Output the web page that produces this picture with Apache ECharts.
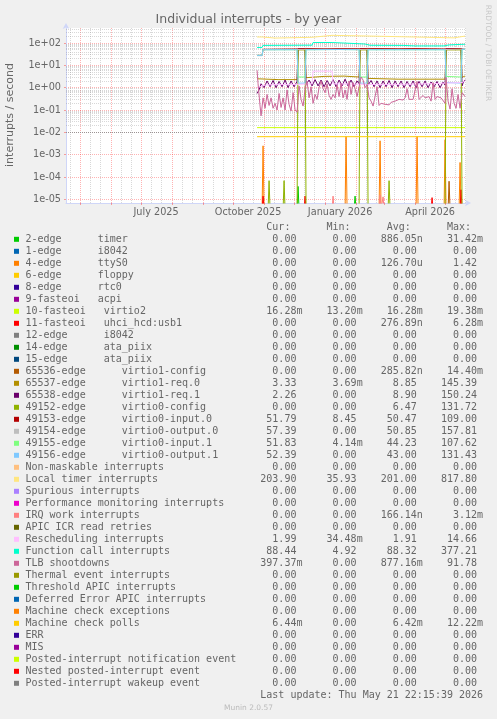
<!DOCTYPE html>
<html><head><meta charset="utf-8">
<script src="https://cdn.jsdelivr.net/npm/echarts@6/dist/echarts.min.js"></script>
<style>html,body{margin:0;padding:0;background:#F0F0F0}#c{width:497px;height:719px}</style>
</head><body><div id="c"></div>
<script>
// ===================== DATA =====================
const legendNames = [
  "2-edge      timer","1-edge      i8042","4-edge      ttyS0","6-edge      floppy","8-edge      rtc0",
  "9-fasteoi   acpi","10-fasteoi   virtio2","11-fasteoi   uhci_hcd:usb1","12-edge      i8042",
  "14-edge      ata_piix","15-edge      ata_piix","65536-edge      virtio1-config",
  "65537-edge      virtio1-req.0","65538-edge      virtio1-req.1","49152-edge      virtio0-config",
  "49153-edge      virtio0-input.0","49154-edge      virtio0-output.0","49155-edge      virtio0-input.1",
  "49156-edge      virtio0-output.1","Non-maskable interrupts","Local timer interrupts","Spurious interrupts",
  "Performance monitoring interrupts","IRQ work interrupts","APIC ICR read retries","Rescheduling interrupts",
  "Function call interrupts","TLB shootdowns","Thermal event interrupts","Threshold APIC interrupts",
  "Deferred Error APIC interrupts","Machine check exceptions","Machine check polls","ERR","MIS",
  "Posted-interrupt notification event","Nested posted-interrupt event","Posted-interrupt wakeup event"
];
const legendColors = [
  "#00CC00","#0066B3","#FF8000","#FFCC00","#330099","#990099","#CCFF00","#FF0000","#808080","#008F00",
  "#00487D","#B35A00","#B38F00","#6B006B","#8FB300","#B30000","#BEBEBE","#80FF80","#80C9FF","#FFC080",
  "#FFE680","#AA80FF","#EE00CC","#FF8080","#666600","#FFBFFF","#00FFCC","#CC6699","#999900","#00CC00",
  "#0066B3","#FF8000","#FFCC00","#330099","#990099","#CCFF00","#FF0000","#808080"
];
const curVals = ["0.00","0.00","0.00","0.00","0.00","0.00","16.28m","0.00","0.00","0.00","0.00","0.00","3.33","2.26","0.00","51.79","57.39","51.83","52.39","0.00","203.90","0.00","0.00","0.00","0.00","1.99","88.44","397.37m","0.00","0.00","0.00","0.00","6.44m","0.00","0.00","0.00","0.00","0.00"];
const minVals = ["0.00","0.00","0.00","0.00","0.00","0.00","13.20m","0.00","0.00","0.00","0.00","0.00","3.69m","0.00","0.00","8.45","0.00","4.14m","0.00","0.00","35.93","0.00","0.00","0.00","0.00","34.48m","4.92","0.00","0.00","0.00","0.00","0.00","0.00","0.00","0.00","0.00","0.00","0.00"];
const avgVals = ["886.05n","0.00","126.70u","0.00","0.00","0.00","16.28m","276.89n","0.00","0.00","0.00","285.82n","8.85","8.90","6.47","50.47","50.85","44.23","43.00","0.00","201.00","0.00","0.00","166.14n","0.00","1.91","88.32","877.16m","0.00","0.00","0.00","0.00","6.42m","0.00","0.00","0.00","0.00","0.00"];
const maxVals = ["31.42m","0.00","1.42","0.00","0.00","0.00","19.38m","6.28m","0.00","0.00","0.00","14.40m","145.39","150.24","131.72","109.00","157.81","107.62","131.43","0.00","817.80","0.00","0.00","3.12m","0.00","14.66","377.21","91.78","0.00","0.00","0.00","0.00","12.22m","0.00","0.00","0.00","0.00","0.00"];

const allZero = [["2025-10-25",0],["2026-05-21",0]];
const timer2 = [["2025-10-25",0],["2025-12-04",0],["2025-12-05",3.8e-5],["2025-12-06",0],["2026-01-30",0],["2026-01-31",1.4e-5],["2026-02-01",0],["2026-05-21",0]];
const ttyS0 = [["2025-10-25",0],["2025-10-30",0],["2025-10-31",2.5e-3],["2025-11-01",0],["2026-01-21",0],["2026-01-22",6.6e-3],["2026-01-23",0],["2026-02-24",0],["2026-02-25",4.2e-3],["2026-02-26",0],["2026-04-02",0],["2026-04-03",6.6e-3],["2026-04-04",0],["2026-04-30",0],["2026-05-01",4.7e-3],["2026-05-02",0],["2026-05-15",0],["2026-05-16",4.5e-4],["2026-05-17",0],["2026-05-21",0]];
const virtio2 = [["2025-10-25",0.0163],["2026-05-21",0.0163]];
const usb11 = [["2025-10-25",0],["2025-10-30",0],["2025-10-31",1.4e-5],["2025-11-01",0],["2025-12-11",0],["2025-12-12",1.4e-5],["2025-12-13",0],["2026-04-17",0],["2026-04-18",1.2e-5],["2026-04-19",0],["2026-05-16",0],["2026-05-17",2.7e-5],["2026-05-18",0],["2026-05-21",0]];
const virtio1Config = [["2025-10-25",0],["2026-05-04",0],["2026-05-05",6.5e-5],["2026-05-06",0],["2026-05-21",0]];
const virtio1Req0 = [["2025-10-25",2.5],["2025-11-15",2.3],["2025-12-04",2.3],["2025-12-05",50],["2025-12-12",50],["2025-12-13",2.8],["2025-12-31",3.2],["2026-01-20",3.3],["2026-02-04",3.0],["2026-02-05",50],["2026-02-12",50],["2026-02-13",2.6],["2026-03-15",2.4],["2026-04-15",2.4],["2026-05-01",2.4],["2026-05-02",50],["2026-05-17",50],["2026-05-18",2.9],["2026-05-21",3.33]];
const virtio1Req1 = [["2025-10-25",0.55],["2025-10-27",0.8],["2025-10-29",1.5],["2025-11-01",1.0],["2025-11-04",2.0],["2025-11-07",1.1],["2025-11-10",2.1],["2025-11-13",1.0],["2025-11-16",1.9],["2025-11-19",1.1],["2025-11-22",2.2],["2025-11-25",1.0],["2025-11-28",2.0],["2025-12-01",1.1],["2025-12-04",1.9],["2025-12-05",55],["2025-12-12",55],["2025-12-13",1.4],["2025-12-16",2.2],["2025-12-19",1.2],["2025-12-22",2.3],["2025-12-25",1.2],["2025-12-28",2.2],["2025-12-31",1.1],["2026-01-03",2.1],["2026-01-06",1.2],["2026-01-09",2.3],["2026-01-12",1.1],["2026-01-15",2.2],["2026-01-18",1.2],["2026-01-21",2.4],["2026-01-24",1.2],["2026-01-27",2.2],["2026-01-30",1.1],["2026-02-02",2.0],["2026-02-04",1.5],["2026-02-05",55],["2026-02-12",55],["2026-02-13",1.3],["2026-02-16",2.1],["2026-02-19",1.1],["2026-02-22",2.0],["2026-02-25",1.0],["2026-02-28",2.0],["2026-03-03",1.1],["2026-03-06",2.1],["2026-03-09",1.0],["2026-03-12",2.0],["2026-03-15",1.1],["2026-03-18",2.0],["2026-03-21",1.0],["2026-03-24",1.9],["2026-03-27",1.1],["2026-03-30",2.0],["2026-04-02",1.0],["2026-04-05",1.9],["2026-04-08",1.1],["2026-04-11",2.0],["2026-04-14",1.0],["2026-04-17",1.8],["2026-04-20",1.1],["2026-04-23",1.9],["2026-04-26",1.0],["2026-04-29",1.8],["2026-05-01",1.3],["2026-05-02",55],["2026-05-17",55],["2026-05-18",1.2],["2026-05-19",1.6],["2026-05-21",2.26]];
const virtio0Config = [["2025-10-25",0],["2025-11-05",0],["2025-11-06",6.9e-5],["2025-11-07",0],["2025-11-20",0],["2025-11-21",6.9e-5],["2025-11-22",0],["2025-12-04",0],["2025-12-05",50],["2025-12-12",50],["2025-12-13",0],["2026-02-04",0],["2026-02-05",50],["2026-02-12",50],["2026-02-13",0],["2026-03-05",0],["2026-03-06",6.9e-5],["2026-03-07",0],["2026-05-01",0],["2026-05-02",50],["2026-05-17",50],["2026-05-18",0],["2026-05-21",0]];
const virtio0Input0 = [["2025-10-25",28],["2025-10-30",28],["2025-10-31",52],["2025-11-15",53],["2025-12-04",54],["2025-12-05",57],["2025-12-12",57],["2025-12-13",54],["2026-01-01",55],["2026-01-15",56],["2026-02-04",55],["2026-02-05",58],["2026-02-12",57],["2026-02-13",54],["2026-03-01",56],["2026-03-15",55],["2026-04-01",56],["2026-04-15",55],["2026-05-01",54],["2026-05-02",58],["2026-05-17",57],["2026-05-18",52],["2026-05-21",51.79]];
const virtio0Output0 = [["2025-10-25",27],["2025-10-30",27],["2025-10-31",50],["2025-11-15",51],["2025-12-04",51],["2025-12-05",52],["2025-12-12",52],["2025-12-13",51],["2026-01-15",52],["2026-02-04",51],["2026-02-05",52],["2026-02-12",52],["2026-02-13",51],["2026-03-15",51],["2026-04-15",51],["2026-05-01",51],["2026-05-02",53],["2026-05-17",53],["2026-05-18",55],["2026-05-21",57.39]];
const virtio0Input1 = [["2025-10-25",28],["2025-10-30",28],["2025-10-31",50],["2025-11-15",50],["2025-12-04",50],["2025-12-05",3],["2025-12-12",3],["2025-12-13",50],["2026-01-15",51],["2026-02-04",50],["2026-02-05",3],["2026-02-12",3],["2026-02-13",50],["2026-03-15",50],["2026-04-15",50],["2026-05-01",50],["2026-05-02",3.2],["2026-05-17",3],["2026-05-18",51],["2026-05-21",51.83]];
const virtio0Output1 = [["2025-10-25",28],["2025-10-30",28],["2025-10-31",50],["2025-11-15",50],["2025-12-04",50],["2025-12-05",1.6],["2025-12-12",1.6],["2025-12-13",50],["2026-01-15",51],["2026-02-04",50],["2026-02-05",1.6],["2026-02-12",1.6],["2026-02-13",50],["2026-03-15",50],["2026-04-15",50],["2026-05-01",50],["2026-05-02",1.7],["2026-05-17",1.6],["2026-05-18",52],["2026-05-21",52.39]];
const localTimer = [["2025-10-25",186],["2025-10-30",186],["2025-10-31",166],["2025-11-12",166],["2025-11-13",180],["2025-12-19",180],["2025-12-20",220],["2026-01-08",220],["2026-01-09",205],["2026-02-25",200],["2026-02-26",170],["2026-05-10",170],["2026-05-12",200],["2026-05-21",203.9]];
const irqWork = [["2025-10-25",0],["2026-01-08",0],["2026-01-09",1.4e-5],["2026-01-10",0],["2026-02-24",0],["2026-02-25",1.6e-5],["2026-02-26",0],["2026-02-27",0],["2026-02-28",1.3e-5],["2026-03-01",0],["2026-05-21",0]];
const resched = [["2025-10-25",1.0],["2025-11-01",1.3],["2025-11-15",1.4],["2025-12-04",1.4],["2025-12-19",1.5],["2025-12-20",5.5],["2026-01-08",5.5],["2026-01-09",1.5],["2026-02-15",1.4],["2026-03-15",1.4],["2026-04-15",1.5],["2026-05-01",1.6],["2026-05-18",1.7],["2026-05-21",1.99]];
const funcCall = [["2025-10-25",63],["2025-10-30",63],["2025-10-31",78],["2025-12-19",80],["2025-12-20",105],["2026-01-08",105],["2026-01-09",92],["2026-02-10",90],["2026-02-15",79],["2026-03-20",78],["2026-04-01",74],["2026-04-30",74],["2026-05-05",82],["2026-05-21",88.44]];
const tlb = [["2025-10-25",6.0],["2025-10-26",1.5],["2025-10-28",0.15],["2025-10-29",0.055],["2025-10-31",0.35],["2025-11-02",0.12],["2025-11-04",0.5],["2025-11-06",0.16],["2025-11-08",0.35],["2025-11-10",0.12],["2025-11-12",0.2],["2025-11-14",0.1],["2025-11-16",0.55],["2025-11-18",0.13],["2025-11-20",0.35],["2025-11-22",0.1],["2025-11-24",0.8],["2025-11-26",0.18],["2025-11-28",0.09],["2025-11-30",0.6],["2025-12-02",0.1],["2025-12-04",0.08],["2025-12-06",1.2],["2025-12-08",0.3],["2025-12-10",0.15],["2025-12-12",0.9],["2025-12-14",1.9],["2025-12-16",0.35],["2025-12-18",1.1],["2025-12-20",0.2],["2025-12-22",0.5],["2025-12-24",0.3],["2025-12-26",1.0],["2025-12-28",2.0],["2025-12-30",0.9],["2026-01-01",0.6],["2026-01-03",1.5],["2026-01-05",0.45],["2026-01-07",0.3],["2026-01-09",0.5],["2026-01-11",0.35],["2026-01-13",1.3],["2026-01-15",0.4],["2026-01-17",1.6],["2026-01-19",0.35],["2026-01-21",0.8],["2026-01-23",0.3],["2026-01-25",2.0],["2026-01-27",0.5],["2026-01-29",1.7],["2026-01-31",0.9],["2026-02-02",0.4],["2026-02-04",1.1],["2026-02-06",3.0],["2026-02-08",2.2],["2026-02-10",1.0],["2026-02-12",1.4],["2026-02-14",0.35],["2026-02-16",0.25],["2026-02-18",0.15],["2026-02-20",0.18],["2026-02-22",1.1],["2026-02-24",0.16],["2026-02-26",0.2],["2026-02-28",0.17],["2026-03-02",0.18],["2026-03-04",0.2],["2026-03-06",0.17],["2026-03-08",0.22],["2026-03-10",0.2],["2026-03-12",0.25],["2026-03-14",0.22],["2026-03-16",0.3],["2026-03-18",0.25],["2026-03-20",0.28],["2026-03-22",0.35],["2026-03-24",0.9],["2026-03-26",0.3],["2026-03-28",0.28],["2026-03-30",0.3],["2026-04-01",0.25],["2026-04-03",1.9],["2026-04-05",0.3],["2026-04-07",0.35],["2026-04-09",0.45],["2026-04-11",0.35],["2026-04-13",0.3],["2026-04-15",0.4],["2026-04-17",0.25],["2026-04-19",1.7],["2026-04-21",0.3],["2026-04-23",0.4],["2026-04-25",0.45],["2026-04-27",0.35],["2026-04-29",0.3],["2026-05-01",0.2],["2026-05-02",2.8],["2026-05-04",0.25],["2026-05-06",0.11],["2026-05-08",0.9],["2026-05-10",0.2],["2026-05-12",0.12],["2026-05-14",0.5],["2026-05-16",0.12],["2026-05-18",0.6],["2026-05-21",0.397]];
const mcPolls = [["2025-10-25",0.0064],["2026-05-21",0.0064]];

const seriesValues = [timer2, allZero, ttyS0, allZero, allZero, allZero, virtio2, usb11, allZero, allZero,
  allZero, virtio1Config, virtio1Req0, virtio1Req1, virtio0Config, virtio0Input0, virtio0Output0, virtio0Input1, virtio0Output1, allZero,
  localTimer, allZero, allZero, irqWork, allZero, resched, funcCall, tlb, allZero, allZero,
  allZero, allZero, mcPolls, allZero, allZero, allZero, allZero, allZero];

const majorMonths = ["2025-05-01","2025-06-01","2025-07-01","2025-08-01","2025-09-01","2025-10-01","2025-11-01","2025-12-01","2026-01-01","2026-02-01","2026-03-01","2026-04-01","2026-05-01"];
const xLabelDates = ["2025-07-16","2025-10-16","2026-01-16","2026-04-16"];
const xLabelTexts = ["July 2025","October 2025","January 2026","April 2026"];
const yTickLabels = {"-5":"1e-05","-4":"1e-04","-3":"1e-03","-2":"1e-02","-1":"1e-01","0":"1e+00","1":"1e+01","2":"1e+02"};

// ===================== CHART =====================
function T(s){const p=s.split('-').map(Number);return Date.UTC(p[0],p[1]-1,p[2]);}
const X_START = Date.UTC(2025,3,16,22,15,39), X_END = Date.UTC(2026,4,21,22,15,39);
const Y_MIN = Math.pow(10,-5.161), Y_MAX = Math.pow(10,2.671);
const FLOOR = Y_MIN/2;
const FONT = '"DejaVu Sans", sans-serif';
const MONO = '"DejaVu Sans Mono", monospace';
const TXT = '#666666';

// minor grid positions
const minorY = [];
for (let e=-6;e<=2;e++) for (let m=2;m<=9;m++){const v=m*Math.pow(10,e); if(v>Y_MIN&&v<Y_MAX) minorY.push({yAxis:v});}
const minorX = [];
for (let y=2025;y<=2026;y++) for (let mo=0;mo<12;mo++) for (const d of [11,21]){const t=Date.UTC(y,mo,d); if(t>X_START&&t<X_END) minorX.push({xAxis:t});}

const series = [{
  type:'line', data:[], silent:true,
  markLine:{silent:true, symbol:['none','none'], z:1, label:{show:false}, animation:false,
    lineStyle:{color:'rgba(143,143,143,0.35)', width:1, type:[1,1]},
    emphasis:{disabled:true}, data: minorY.concat(minorX)}
}];
seriesValues.forEach((arr,i)=>{
  series.push({type:'line', name:legendNames[i], silent:true, showSymbol:false, symbol:'none', animation:false,
    lineStyle:{width:1, color:legendColors[i]}, itemStyle:{color:legendColors[i]}, emphasis:{disabled:true},
    data: arr.map(p=>[T(p[0]), p[1] > 0 ? p[1] : FLOOR])});
});

const graphics = [];
graphics.push({type:'text', style:{x:248.5, y:19.5, text:'Individual interrupts - by year', font:'12.5px '+FONT, fill:TXT, align:'center', verticalAlign:'middle'}});
graphics.push({type:'text', x:10.5, y:115, rotation:Math.PI/2, style:{x:0, y:0, text:'interrupts / second', font:'11px '+FONT, fill:TXT, align:'center', verticalAlign:'middle'}});
graphics.push({type:'text', x:487.5, y:53, rotation:-Math.PI/2, style:{x:0,y:0,text:'RRDTOOL / TOBI OETIKER', font:'7.5px '+FONT, fill:'#C8C8C8', align:'center', verticalAlign:'middle'}});
function fld(v){ return (/[a-z]$/i.test(v) ? v : v+' ').padStart(10); }
const LX = 25.5, LY0 = 239.3, LDY = 12;
graphics.push({type:'text', style:{x:LX, y:LY0-LDY, text:' '.repeat(40)+'Cur:'+' '.repeat(6)+'Min:'+' '.repeat(6)+'Avg:'+' '.repeat(6)+'Max:', font:'10px '+MONO, fill:TXT, verticalAlign:'middle'}});
legendNames.forEach((n,i)=>{
  const y = LY0 + LDY*i;
  graphics.push({type:'rect', shape:{x:14, y:y-2.5, width:5, height:5}, style:{fill:legendColors[i]}});
  graphics.push({type:'text', style:{x:LX, y:y, text:n.padEnd(36)+fld(curVals[i])+fld(minVals[i])+fld(avgVals[i])+fld(maxVals[i]), font:'10px '+MONO, fill:TXT, verticalAlign:'middle'}});
});
graphics.push({type:'text', style:{x:LX, y:LY0+LDY*legendNames.length, text:' '.repeat(39)+'Last update: Thu May 21 22:15:39 2026', font:'10px '+MONO, fill:TXT, verticalAlign:'middle'}});
graphics.push({type:'text', style:{x:248.5, y:708, text:'Munin 2.0.57', font:'7.5px '+FONT, fill:'#BBBBBB', align:'center', verticalAlign:'middle'}});

const chart = echarts.init(document.getElementById('c'), null, {renderer:'canvas'});
chart.setOption({
  backgroundColor:'#F0F0F0',
  animation:false,
  grid:{left:66, top:28, width:400, height:175, show:true, backgroundColor:'#FFFFFF', borderWidth:0, containLabel:false},
  xAxis:{type:'value', min:X_START, max:X_END,
    axisLine:{show:true, lineStyle:{color:'#CFD6F8', width:1}, symbol:['none','arrow'], symbolSize:[5,6], symbolOffset:[0,5]},
    axisTick:{show:true, length:2, inside:false, customValues: majorMonths.map(T), lineStyle:{color:'rgba(255,0,0,0.35)'}},
    axisLabel:{show:true, customValues: xLabelDates.map(T), margin:4, font:'9.7px '+FONT, fontFamily:'DejaVu Sans', fontSize:9.7, color:TXT,
      formatter:(v)=>{const i = xLabelDates.map(T).indexOf(v); return i>=0 ? xLabelTexts[i] : '';}},
    splitLine:{show:true, lineStyle:{color:'rgba(255,0,0,0.3)', width:1, type:[1,1]}}
  },
  yAxis:{type:'log', logBase:10, min:Y_MIN, max:Y_MAX,
    axisLine:{show:true, lineStyle:{color:'#CFD6F8', width:1}, symbol:['none','arrow'], symbolSize:[5,6], symbolOffset:[0,5]},
    axisTick:{show:true, length:2, lineStyle:{color:'rgba(255,0,0,0.35)'}},
    axisLabel:{margin:5, fontFamily:'DejaVu Sans', fontSize:9.7, color:TXT, showMinLabel:false, showMaxLabel:false,
      formatter:(v)=>{const e=Math.round(Math.log10(v)); return yTickLabels[String(e)] || '';}},
    splitLine:{show:true, showMinLine:false, showMaxLine:false, lineStyle:{color:'rgba(255,0,0,0.3)', width:1, type:[1,1]}}
  },
  graphic: graphics,
  series: series
});
</script></body></html>
